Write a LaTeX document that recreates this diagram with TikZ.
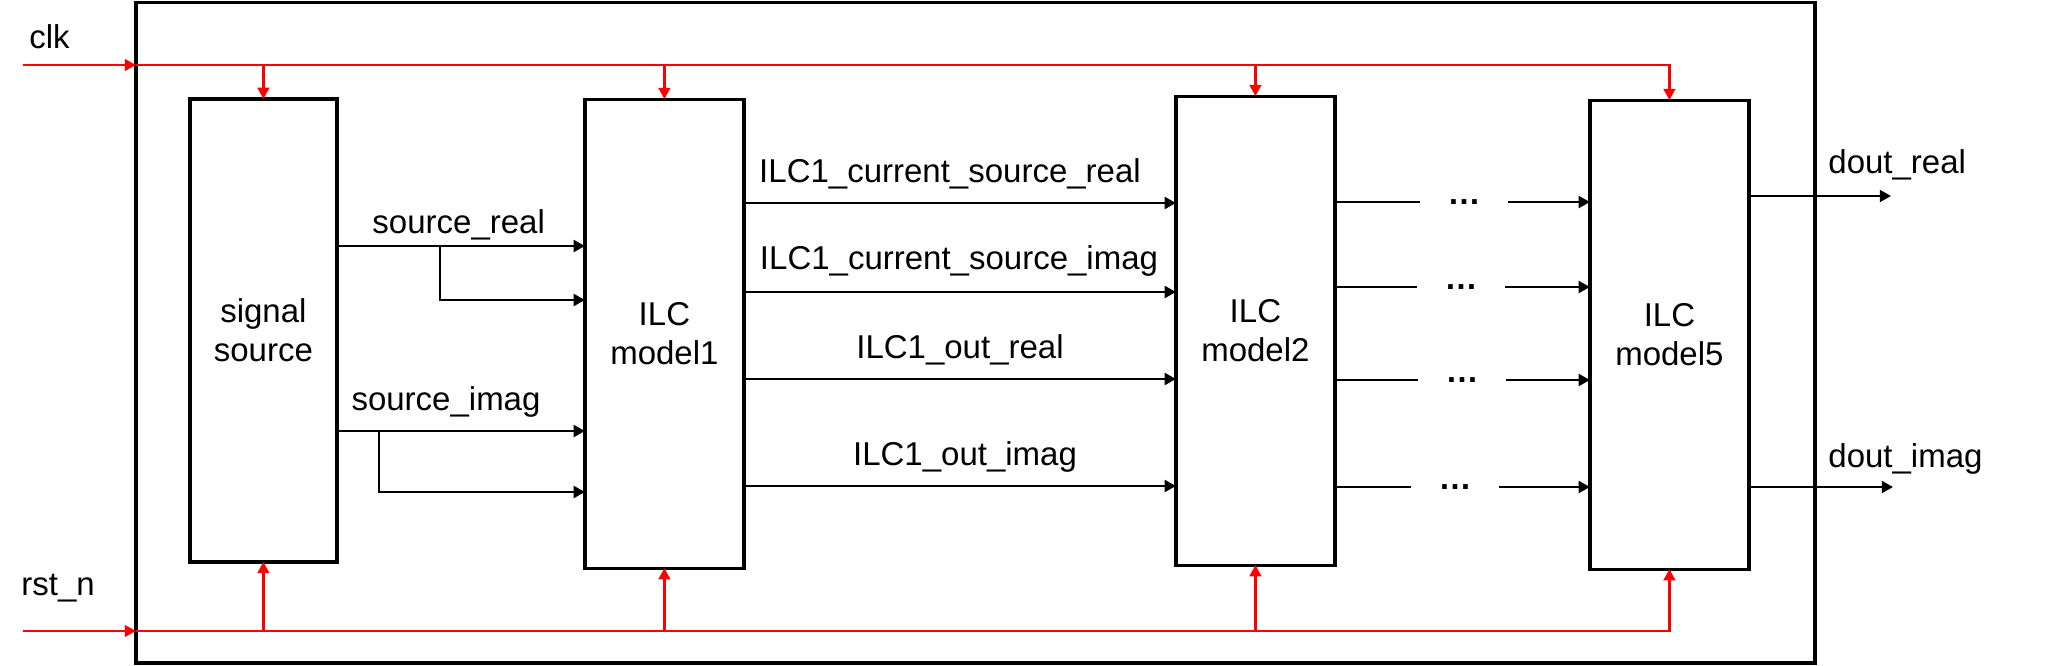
\documentclass[tikz,border=0pt]{standalone}
\usepackage{fontspec}
\setmainfont{Liberation Sans}
\usetikzlibrary{arrows.meta,positioning}

\begin{document}
\begin{tikzpicture}[x=0.5pt, y=-0.5pt,
    every node/.style={font=\fontsize{16.5pt}{19.75pt}\selectfont},
    block/.style={rectangle, draw, line width=1.6pt, outer sep=0pt, minimum width=79.5pt, minimum height=234.5pt, align=center},
    lbl/.style={inner sep=0pt, anchor=base},
    wire/.style={line width=1.25pt},
    sig/.style={wire, -{Triangle[length=5.6pt, width=5.9pt]}},
    bus/.style={red, line width=1.15pt, -{Triangle[length=5.6pt, width=5.8pt]}},
    dotsnode/.style={inner sep=0pt, minimum width=44pt, font=\fontsize{16.5pt}{19.75pt}\selectfont\bfseries}]
      \useasboundingbox (0,0) rectangle (2048,665);

      % outer frame
      \node[draw, line width=1.6pt, outer sep=0pt, minimum width=839.5pt, minimum height=330.25pt] (top) at (975.5,332.75) {};

      % blocks
      \node[block, minimum width=73.5pt, minimum height=231.5pt] (src) at (263.4,330.4) {signal\\source};
      \node[block] (ilc1) [right=124pt of src, yshift=-1.6pt] {ILC\\model1};
      \node[block] (ilc2) [right=216pt of ilc1, yshift=1.5pt] {ILC\\model2};
      \node[block] (ilc5) [right=127.5pt of ilc2, yshift=-2pt] {ILC\\model5};

      % clk and rst_n
      \node[lbl, anchor=base west] (clklbl) at (29,48) {clk};
      \node[lbl, anchor=base west] (rstlbl) at (21,595) {rst\_n};
      \coordinate (clkin) at (23,65);
      \coordinate (rstin) at (23,631);

      \draw[bus] (clkin) -- (clkin -| top.west);
      \draw[bus] (clkin -| top.west) -| (ilc5.north);
      \draw (src.north |- clkin) edge [bus] (src.north);
      \draw (ilc1.north |- clkin) edge [bus] (ilc1.north);
      \draw (ilc2.north |- clkin) edge [bus] (ilc2.north);

      \draw[bus] (rstin) -- (rstin -| top.west);
      \draw[bus] (rstin -| top.west) -| (ilc5.south);
      \draw (src.south |- rstin) edge [bus] (src.south);
      \draw (ilc1.south |- rstin) edge [bus] (ilc1.south);
      \draw (ilc2.south |- rstin) edge [bus] (ilc2.south);

      % signal source outputs
      \node[lbl] (srlbl) at (458.7,233) {source\_real};
      \node[lbl] (silbl) at (446,410.5) {source\_imag};
      \coordinate (srbr) at (440,246);
      \coordinate (sibr) at (379,431);
      \draw (src.east |- srbr) edge [sig] (ilc1.west |- srbr);
      \draw[sig] (srbr) |- (ilc1.west |- 0,300);
      \draw (src.east |- sibr) edge [sig] (ilc1.west |- sibr);
      \draw[sig] (sibr) |- (ilc1.west |- 0,492);

      % ILC model1 to ILC model2
      \node[lbl] (c1r) at (950,182.4) {ILC1\_current\_source\_real};
      \node[lbl] (c1i) at (959,269.7) {ILC1\_current\_source\_imag};
      \node[lbl] (o1r) at (960,358.4) {ILC1\_out\_real};
      \node[lbl] (o1i) at (965,465.7) {ILC1\_out\_imag};
      \draw (ilc1.east |- 0,203) edge [sig] (ilc2.west |- 0,203);
      \draw (ilc1.east |- 0,292) edge [sig] (ilc2.west |- 0,292);
      \draw (ilc1.east |- 0,379) edge [sig] (ilc2.west |- 0,379);
      \draw (ilc1.east |- 0,486) edge [sig] (ilc2.west |- 0,486);

      % ILC model2 to ILC model5
      \node[dotsnode] (d1) at (1464,202) {…};
      \node[dotsnode] (d2) at (1461,287) {…};
      \node[dotsnode] (d3) at (1462,380) {…};
      \node[dotsnode] (d4) at (1455,487) {…};
      \draw (ilc2.east |- d1) edge [wire] (d1.west);
      \draw (ilc2.east |- d2) edge [wire] (d2.west);
      \draw (ilc2.east |- d3) edge [wire] (d3.west);
      \draw (ilc2.east |- d4) edge [wire] (d4.west);
      \draw (d1.east) edge [sig] (ilc5.west |- d1);
      \draw (d2.east) edge [sig] (ilc5.west |- d2);
      \draw (d3.east) edge [sig] (ilc5.west |- d3);
      \draw (d4.east) edge [sig] (ilc5.west |- d4);

      % outputs
      \node[lbl, anchor=base west] (drlbl) at (1828,173.3) {dout\_real};
      \node[lbl, anchor=base west] (dilbl) at (1828,467) {dout\_imag};
      \coordinate (dre) at (1891,196);
      \coordinate (die) at (1893,487);
      \draw (ilc5.east |- dre) edge [sig] (dre);
      \draw (ilc5.east |- die) edge [sig] (die);
    \end{tikzpicture}
\end{document}
